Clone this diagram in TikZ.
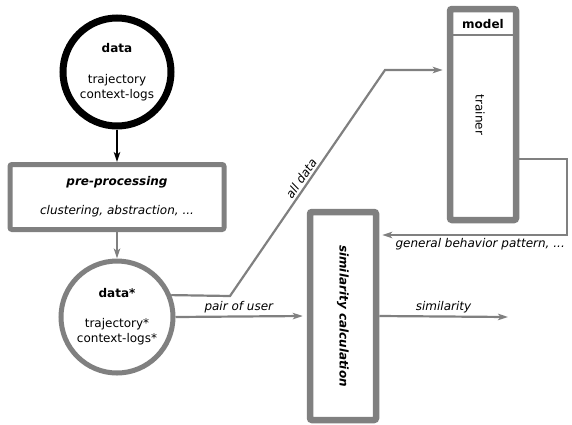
\documentclass[tikz,border=0pt]{standalone}
\usepackage{fontspec}
\setmainfont{DejaVu Sans}
\usepackage{tikz}
\usetikzlibrary{arrows.meta,positioning,calc}

\definecolor{flowgray}{RGB}{128,128,128}

\begin{document}
\begin{tikzpicture}[x=1pt,y=-1pt,
    font=\fontsize{12}{15}\selectfont,
    tip/.style={-{Stealth[length=10pt,width=6.5pt,inset=2.5pt]}},
    flow/.style={tip,draw=flowgray,line width=2.2pt},
    store/.style={circle,fill=white,align=center,inner sep=0pt},
    block/.style={rectangle,draw=flowgray,fill=white,rounded corners=2pt,align=center,inner sep=0pt}]
\useasboundingbox (0,0) rectangle (572,424);

% Data stores
\node[store,draw=black,line width=7pt,minimum size=108pt] (data) at (117,72)
    {\textbf{data}\\[16pt]trajectory\\context-logs};
\node[store,draw=flowgray,line width=5pt,minimum size=112pt] (datastar) at (117,317)
    {\textbf{data*}\\[15pt]trajectory*\\context-logs*};

% Processing blocks
\node[block,line width=5pt,minimum width=214pt,minimum height=65pt] (prep) at (117,197)
    {\textbf{\textit{pre-processing}}\\[14pt]\textit{clustering, abstraction, ...}};
\node[block,line width=6.5pt,minimum width=66pt,minimum height=208pt] (sim) at (343,316)
    {\rotatebox{-90}{\textbf{\textit{similarity calculation}}}};
\node[block,line width=6.5pt,minimum width=66pt,minimum height=211pt] (model) at (483,114.5) {};
\node (modelhead) at (483,24) {\textbf{model}};
\node (trainer) at (480,115) {\rotatebox{-90}{trainer}};
\draw[flowgray,line width=2pt] ($(model.north west)+(0,29)$) -- ($(model.north east)+(0,29)$);

% Helper points
\coordinate (bendA) at (230,296);
\coordinate (bendB) at (385,70);
\coordinate (loopA) at (567,159);
\coordinate (loopB) at (567,235);
\coordinate (result) at (508,317);

% Connectors
\draw[tip,black,line width=1.6pt] (data.south) -- (prep.north);
\draw[flow] (prep.south) -- (datastar.north);
\draw[flow] (datastar.22) -- (bendA) -- node[pos=0.5,above,sloped,inner sep=2pt] {\textit{all data}} (bendB)
    -- ($(model.west|-bendB)+(-4,0)$);
\draw[flow] (datastar.east) -- node[midway,above,inner sep=2pt] {\textit{pair of user}} ($(sim.west)+(-4,0)$);
\draw[flow] (model.east|-loopA) -- (loopA) -- (loopB)
    -- node[pos=0.47,below,inner sep=2pt] {\textit{general behavior pattern, ...}} ($(sim.east|-loopB)+(3,0)$);
\draw[flow] (sim.east) -- node[midway,above,inner sep=2pt] {\textit{similarity}} (result);
\end{tikzpicture}
\end{document}
